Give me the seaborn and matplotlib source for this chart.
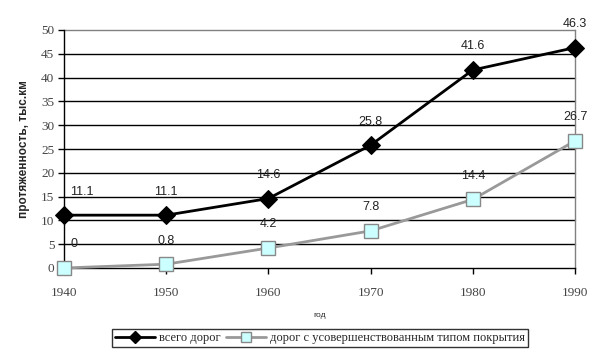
import matplotlib
matplotlib.use("Agg")
import matplotlib.pyplot as plt
import seaborn as sns
import pandas as pd
from matplotlib.lines import Line2D

years = [1940, 1950, 1960, 1970, 1980, 1990]
total_roads = [11.1, 11.1, 14.6, 25.8, 41.6, 46.3]
improved_roads = [0, 0.8, 4.2, 7.8, 14.4, 26.7]
series_names = ["всего дорог", "дорог с усовершенствованным типом покрытия"]
y_ticks = list(range(0, 55, 5))

df = pd.DataFrame({
    "год": years * 2,
    "value": total_roads + improved_roads,
    "series": [series_names[0]] * len(years) + [series_names[1]] * len(years),
})

sns.set_style("white")
plt.rcParams["font.family"] = ["DejaVu Sans"]

fig = plt.figure(figsize=(6.06, 3.57), dpi=100)
ax = fig.add_axes([64/606, 1 - 268/357, (575-64)/606, (268-30)/357])

for y in y_ticks[1:-1]:
    ax.axhline(y, color="black", lw=1.0, zorder=0)
ax.axhline(50, color="#808080", lw=1.0, zorder=0)

palette = {series_names[0]: "black", series_names[1]: "#999999"}
sns.lineplot(data=df, x="год", y="value", hue="series", style="series",
             palette=palette, markers={series_names[0]: "D", series_names[1]: "s"},
             dashes=False, ax=ax, legend=False, lw=2, zorder=3)
for ln in ax.lines:
    ln.set_clip_on(False)
    if ln.get_color() == "#999999":
        ln.set_markerfacecolor("#ccffff")
        ln.set_markeredgecolor("#888888")
        ln.set_markersize(10)
        ln.set_markeredgewidth(1)
    elif ln.get_color() == "black":
        ln.set_markerfacecolor("black")
        ln.set_markeredgecolor("black")
        ln.set_markersize(9)

label_font = dict(family="Liberation Sans", fontsize=9, color="#222222")
for i, (x, v) in enumerate(zip(years, total_roads)):
    dx = 13 if i == 0 else 0
    ax.annotate(f"{v:.1f}", (x, v), xytext=(dx, 17), textcoords="offset points",
                ha="center", va="center", **label_font)
for i, (x, v) in enumerate(zip(years, improved_roads)):
    dx = 7 if i == 0 else 0
    txt = f"{v:g}" if v == 0 else f"{v:.1f}"
    ax.annotate(txt, (x, v), xytext=(dx, 17), textcoords="offset points",
                ha="center", va="center", **label_font)

ax.set_xlim(1940, 1990)
ax.set_ylim(0, 50)
ax.set_xticks(years)
ax.set_yticks(y_ticks)
ax.set_xticklabels([str(y) for y in years], family="Liberation Serif", fontsize=9.5, color="#444444")
ax.set_yticklabels([str(y) for y in y_ticks], family="Liberation Serif", fontsize=9.5, color="#444444")
ax.tick_params(axis="both", direction="out", length=4, width=1, color="black", pad=10, bottom=True, left=True)
ax.tick_params(axis="y", pad=3)

ax.spines["top"].set_visible(False)
ax.spines["right"].set_color("#808080")
ax.spines["left"].set_color("black")
ax.spines["bottom"].set_color("black")
for s in ax.spines.values():
    s.set_linewidth(1)

ax.set_xlabel("год", fontsize=6, family="Liberation Sans", labelpad=9)
ax.set_ylabel("протяженность, тыс.км", fontsize=8.5, fontweight="bold", family="Liberation Sans", labelpad=8)
ax.set_facecolor("white")
ax.grid(False)

handles = [
    Line2D([], [], color="black", lw=2, marker="D", markersize=6, markerfacecolor="black"),
    Line2D([], [], color="#999999", lw=2, marker="s", markersize=7, markerfacecolor="#ccffff", markeredgecolor="#888888"),
]
leg = fig.legend(handles, series_names, loc="center", bbox_to_anchor=(320/606, 1 - 338/357),
                 ncol=2, frameon=True, fancybox=False, edgecolor="black",
                 prop={"family": "Liberation Serif", "size": 9}, handlelength=3.2,
                 columnspacing=0.5, handletextpad=0.3, borderpad=0.25, borderaxespad=0)
leg.get_frame().set_linewidth(1)

fig.savefig("out.png", dpi=100)
